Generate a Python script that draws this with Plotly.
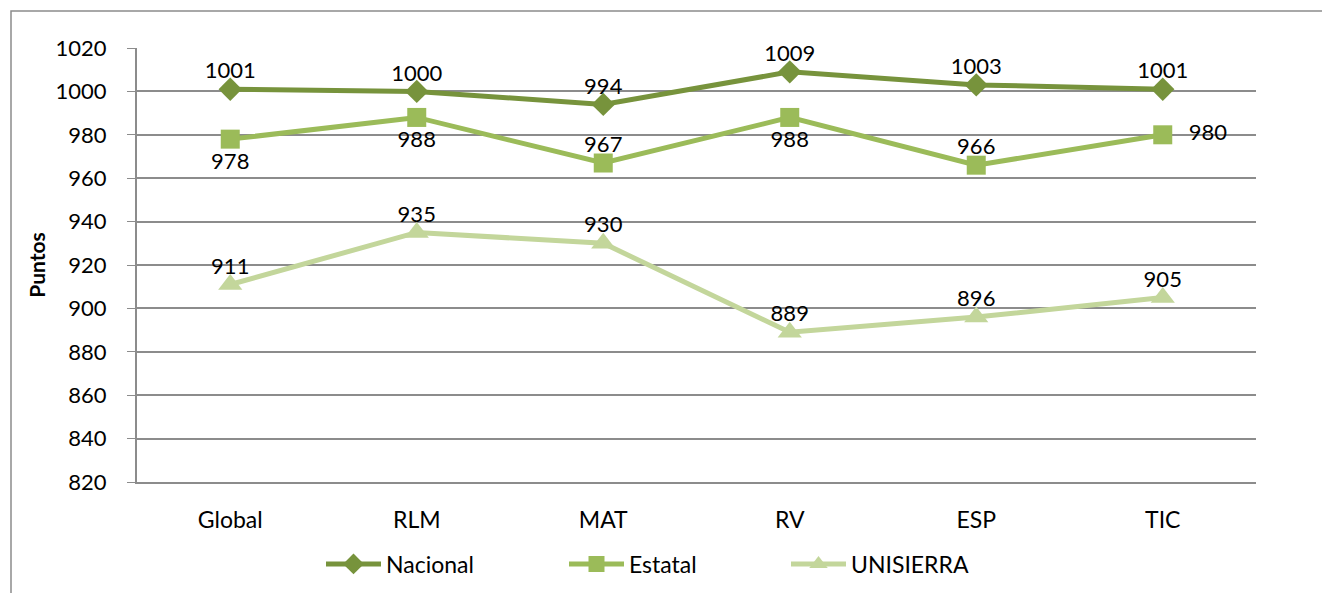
import plotly.graph_objects as go

# Datos
categorias = ['Global', 'RLM', 'MAT', 'RV', 'ESP', 'TIC']
nacional = [1001, 1000, 994, 1009, 1003, 1001]
estatal = [978, 988, 967, 988, 966, 980]
unisierra = [911, 935, 930, 889, 896, 905]

# posicion de las etiquetas de datos
pos_nacional = ['top center'] * 6
pos_estatal = ['bottom center', 'bottom center', 'top center', 'bottom center', 'top center', 'middle right']
pos_unisierra = ['top center'] * 6

fuente = 'Lato, Carlito, sans-serif'

series = [
    ('Nacional', nacional, '#77933C', 'diamond', 18, pos_nacional, 'legend', 321),
    ('Estatal', estatal, '#9BBB59', 'square', 19, pos_estatal, 'legend2', 564),
    ('UNISIERRA', unisierra, '#C3D69B', 'triangle-up', 21, pos_unisierra, 'legend3', 786),
]

# separacion de la etiqueta segun su posicion (tamano de un marcador invisible)
sep = {'top center': 7, 'bottom center': 20, 'middle right': 40}

fig = go.Figure()

for nombre, valores, color, simbolo, tam, posiciones, ley, _ in series:
    fig.add_trace(go.Scatter(
        x=categorias, y=valores, name=nombre, mode='lines+markers',
        line=dict(color=color, width=5),
        marker=dict(symbol=simbolo, size=tam, color=color),
        cliponaxis=False, legend=ley
    ))

for nombre, valores, color, simbolo, tam, posiciones, ley, _ in series:
    fig.add_trace(go.Scatter(
        x=categorias, y=valores, mode='markers+text', showlegend=False,
        hoverinfo='skip',
        marker=dict(size=[sep[p] for p in posiciones], opacity=0),
        text=[str(v) for v in valores], textposition=posiciones,
        textfont=dict(size=22, color='black', family=fuente), cliponaxis=False
    ))

leyendas = {}
for nombre, valores, color, simbolo, tam, posiciones, ley, px in series:
    leyendas[ley] = dict(orientation='h', x=(px - 137) / 1119, xanchor='left',
                         y=(482 - 564) / 434, yanchor='middle',
                         font=dict(size=23), itemwidth=55)

fig.update_layout(
    width=1322, height=585,
    margin=dict(l=129, r=74, t=40, b=111, autoexpand=False),
    plot_bgcolor='white', paper_bgcolor='white',
    font=dict(family=fuente, size=22, color='black'),
    showlegend=True,
    shapes=[dict(type='rect', xref='paper', yref='paper',
                 x0=(11 - 137) / 1119, x1=1.3, y0=-0.5, y1=1 + (48 - 11) / 434,
                 line=dict(color='#8c8c8c', width=1.5), layer='below')],
    **leyendas
)
fig.update_xaxes(
    range=[-0.5, 5.5], showline=True, linecolor='#8c8c8c', linewidth=2,
    showgrid=False, ticks='', tickfont=dict(size=23), ticklabelstandoff=16
)
fig.update_yaxes(
    range=[820, 1020], dtick=20, showline=True, linecolor='#8c8c8c', linewidth=2,
    showgrid=True, gridcolor='#8c8c8c', gridwidth=1.5,
    ticks='outside', ticklen=8, tickcolor='#8c8c8c', tickfont=dict(size=22),
    ticklabelstandoff=16,
    title=dict(text='<b>Puntos</b>', font=dict(size=21), standoff=4),
    zeroline=False
)

fig.write_html('out.html')
